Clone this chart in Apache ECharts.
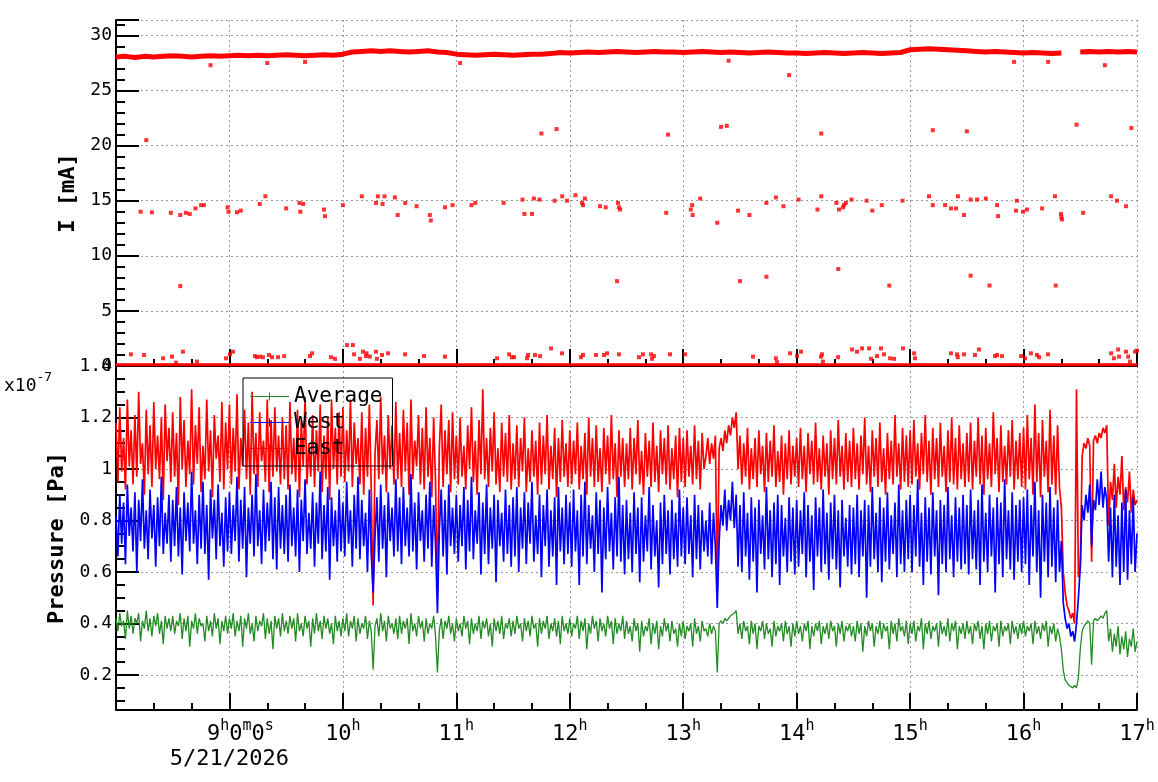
<!DOCTYPE html>
<html>
<head>
<meta charset="utf-8">
<script src="https://cdn.jsdelivr.net/npm/echarts@6.0.0/dist/echarts.min.js"></script>
<style>
html,body{margin:0;padding:0;background:#fff;}
#chart{width:1158px;height:782px;}
</style>
</head>
<body>
<div id="chart"></div>
<script>
// time axis = minutes after 8:00 on 5/21/2026

// beam current I [mA], main band, one value every 5 min (null = no data)
const iBandStep = 5;
const iBand = [
  28.05,28.1,28.0,28.1,28.05,28.1,28.15,28.1,28.05,28.1,28.15,28.1,
  28.15,28.2,28.15,28.2,28.15,28.2,28.25,28.2,28.15,28.2,28.25,28.2,
  28.3,28.5,28.55,28.6,28.55,28.6,28.55,28.5,28.55,28.6,28.5,28.45,
  28.3,28.25,28.2,28.25,28.3,28.25,28.2,28.25,28.3,28.3,28.35,
  28.45,28.4,28.45,28.5,28.45,28.5,28.55,28.5,28.45,28.5,28.55,28.5,28.5,28.45,
  28.5,28.55,28.5,28.45,28.5,28.45,28.4,28.45,28.5,28.45,28.4,
  28.4,28.35,28.4,28.45,28.4,28.35,28.4,28.45,28.4,28.35,28.4,28.45,
  28.7,28.75,28.8,28.75,28.7,28.65,28.6,28.55,28.5,28.55,28.5,28.45,
  28.4,28.45,28.4,28.35,28.4,
  null,
  28.5,28.55,28.5,28.55,28.5,28.55,28.5
];
// readings stuck near zero, one value every 10 min
const iZeroStep = 10;
const iZero = [
  0.12,0.12,0.12,0.12,0.12,0.12,0.12,0.12,0.12,0.12,0.12,0.12,0.12,0.12,
  0.12,0.12,0.12,0.12,0.12,0.12,0.12,0.12,0.12,0.12,0.12,0.12,0.12,0.12,
  0.12,0.12,0.12,0.12,0.12,0.12,0.12,0.12,0.12,0.12,0.12,0.12,0.12,0.12,
  0.12,0.12,0.12,0.12,0.12,0.12,0.12,0.12,0.12,0.12,0.12,0.12,0.12
];
// isolated readings [minute, mA]
const iOutliers = [
  [50,27.3],[80,27.5],[100,27.6],[182,27.5],[324,27.7],[356,26.4],[475,27.6],[493,27.6],[523,27.3],
  [16,20.5],[225,21.1],[233,21.5],[292,21.0],[320,21.7],[323,21.8],[373,21.1],[432,21.4],[450,21.3],[508,21.9],[537,21.6],
  [34,7.25],[265,7.7],[330,7.7],[344,8.1],[382,8.8],[409,7.3],[452,8.2],[462,7.3],[497,7.3],
  [13,14.0],[19,13.95],[29,13.9],[34,13.7],[37,13.9],[39,13.8],[42,14.3],[45,14.6],[46.5,14.6],[59,14.4],[59.5,14.0],
  [64,13.95],[66,14.1],[76,14.7],[79,15.4],[90,14.3],[97,14.8],[97.5,14.0],[99,14.7],[110,14.2],[110.5,13.6],
  [120,14.6],[130,15.4],[137.5,14.8],[138.5,15.4],[141,14.7],[142,15.4],[147.5,15.3],[149,13.7],[153,14.8],[159,14.5],
  [166,13.7],[166.5,13.2],[174,14.4],[178,14.6],[188,14.6],[190,14.8],[205,14.8],[215,15.1],[216,13.8],[220,13.8],
  [221,15.2],[224,15.1],[232,15.0],[236,15.4],[238.5,15.0],[243,15.5],[246.5,14.8],[248,15.2],[247,14.6],[256,14.5],
  [259,14.4],[265.5,14.8],[266,14.4],[266.6,14.2],[291,13.9],[304.7,14.6],[304,14.2],[305,13.7],[309,15.2],[318,13.0],
  [329,14.1],[335,13.7],[344,14.8],[349,15.3],[353,14.5],[361,15.1],[371,14.2],[373,15.4],[381,14.8],[382.4,14.2],
  [385,14.6],[384.5,14.4],[386,14.8],[389,15.1],[397,15.0],[400,14.1],[405,14.6],[416,15.0],[430,15.4],[432,14.6],
  [438.5,14.6],[441.6,14.3],[444.3,14.3],[445.3,15.4],[448.5,13.7],[452,15.1],[455.4,15.1],[460,15.2],[466,14.6],[466.5,13.6],
  [476.5,15.0],[476,14.1],[479.7,14.0],[481.8,14.2],[489.8,14.3],[496.6,15.4],[499.8,13.8],[500.3,13.3],[500,13.5],[511.5,13.9],
  [526.3,15.4],[529.4,15.0],[534.2,14.5],
  [7.9,1.06],[14.8,1.0],[24.9,0.7],[29.6,0.85],[31.7,0.3],[35.4,1.3],[42.8,0.4],[58.2,0.7],[60.3,1.06],[61.9,1.3],
  [73.5,0.9],[74.6,0.8],[76.2,0.85],[77.7,0.8],[80.9,1.0],[82.5,0.8],[85.7,0.8],[88.9,0.9],[102.6,0.9],[103.7,1.15],
  [113.7,0.8],[115.8,0.65],[122.2,1.9],[125.3,1.9],[125.9,1.06],[129,0.65],[130.6,1.3],[132.2,0.9],[132.5,1.15],[134.3,0.85],
  [137.5,1.3],[138,0.65],[140.7,1.0],[143.9,1.15],[152.9,1.06],[162.9,0.9],[174,0.85],[201.5,0.7],[207.9,1.06],[209.4,0.8],
  [210.5,0.8],[217.4,0.7],[217.9,1.0],[221.6,1.0],[224.3,0.9],[230.1,1.6],[235.9,1.15],[245.9,0.8],[247,1.0],[253.9,1.0],
  [258.1,1.0],[259.7,1.15],[266,1.06],[276.6,0.8],[278.7,1.06],[283,1.06],[283.5,0.65],[284.5,0.9],[293,1.06],[301,1.06],
  [336.9,0.85],[349,0.7],[349.6,0.35],[356.5,1.15],[360.2,0.9],[362.3,1.3],[372.9,0.85],[373.4,1.06],[373.9,0.4],[381.9,0.8],
  [389.3,1.5],[391.9,1.3],[394.6,1.6],[398.3,1.6],[399.3,0.65],[402.5,0.9],[404.6,1.6],[406.2,1.06],[409.4,0.7],[411.5,0.65],
  [416.2,1.6],[422.1,1.15],[422.6,0.7],[441.6,1.15],[444.8,1.06],[445.2,0.8],[448.5,1.06],[454.3,1.0],[456.4,1.5],[464.9,0.9],
  [466,1.0],[468.6,0.9],[478.7,0.9],[480.8,0.7],[483.9,1.15],[487.1,1.0],[488.2,0.8],[492.9,1.06],[526.3,1.15],[527.8,0.7],
  [530,1.5],[530.5,0.85],[534.2,1.3],[535.3,0.85],[536.3,0.4],[539,1.3],[540,1.4]
];

// pressure in units of 1e-7 Pa, one reading per minute (rows of 30 min)
const pStep = 1;
const pressEast = [
  1.18,0.95,1.24,0.99,1.12,0.92,1.27,1.01,1.15,0.94,1.21,0.97,1.30,1.02,1.10,0.90,1.23,0.98,1.17,0.93,1.26,1.00,1.13,0.96,1.20,0.88,1.25,1.03,1.16,0.95,
  1.22,0.97,1.14,0.86,1.28,1.00,1.19,0.93,1.11,0.98,1.31,0.94,1.17,1.02,1.24,0.91,1.09,0.96,1.27,0.99,1.15,0.89,1.21,1.04,1.13,0.95,1.26,0.92,1.18,1.00,
  1.25,0.94,1.16,0.99,1.29,0.92,1.12,1.01,1.23,0.96,1.18,0.90,1.30,0.98,1.14,0.93,1.22,1.03,1.11,0.95,1.27,0.91,1.19,0.97,1.24,0.99,1.13,0.94,1.20,0.96,
  1.17,0.92,1.26,0.98,1.12,0.95,1.23,0.89,1.19,1.01,1.28,0.94,1.10,0.97,1.21,0.93,1.15,0.99,1.25,0.91,1.13,0.96,1.20,0.88,1.27,1.00,1.16,0.94,1.22,0.97,
  1.24,0.95,1.15,0.99,1.27,0.93,1.18,1.02,1.12,0.94,1.22,0.90,1.16,0.97,1.25,0.92,0.47,1.06,1.19,0.96,1.28,0.98,1.13,0.91,1.21,1.00,1.17,0.94,1.26,0.96,
  1.14,0.93,1.23,0.99,1.18,0.90,1.27,0.96,1.11,1.01,1.21,0.94,1.16,0.92,1.24,0.97,1.12,0.89,1.20,0.95,0.50,1.08,1.25,0.93,1.15,0.98,1.19,0.91,1.22,0.96,
  1.13,0.94,1.20,0.97,1.09,0.92,1.17,1.00,1.24,0.95,1.11,0.90,1.19,0.98,1.31,0.96,1.12,0.93,1.16,0.99,1.22,0.94,1.08,0.91,1.18,0.97,1.14,0.95,1.21,0.92,
  1.10,0.96,1.17,0.93,1.12,0.99,1.20,0.91,1.08,0.95,1.15,0.97,1.11,0.90,1.18,0.94,1.13,0.98,1.21,0.92,1.09,0.96,1.16,0.89,1.12,0.95,1.19,0.97,1.10,0.93,
  1.15,0.94,1.11,0.98,1.18,0.92,1.09,0.96,1.14,0.90,1.20,0.97,1.12,0.93,1.17,0.95,1.08,0.91,1.16,0.98,1.13,0.94,1.21,0.96,1.10,0.89,1.15,0.97,1.12,0.93,
  1.10,0.96,1.16,0.92,1.12,0.98,1.19,0.94,1.07,0.90,1.14,0.97,1.11,0.93,1.18,0.95,1.09,0.91,1.15,0.98,1.12,0.94,1.17,0.92,1.08,0.96,1.13,0.89,1.16,0.95,
  1.12,0.93,1.15,0.97,1.09,0.94,1.17,0.96,1.11,0.92,1.14,1.00,1.05,1.12,1.02,1.10,1.04,1.13,0.53,1.08,1.12,1.07,1.15,1.10,1.17,1.13,1.20,1.16,1.22,1.00,
  1.13,0.94,1.10,0.97,1.16,0.92,1.08,0.96,1.12,0.93,1.15,0.98,1.09,0.91,1.14,0.95,1.11,0.97,1.17,0.93,1.07,0.95,1.13,0.90,1.10,0.96,1.15,0.94,1.09,0.97,
  1.12,0.93,1.16,0.96,1.09,0.91,1.14,0.98,1.11,0.94,1.18,0.95,1.08,0.92,1.13,0.97,1.10,0.90,1.15,0.96,1.12,0.94,1.19,0.97,1.09,0.92,1.14,0.95,1.11,0.93,
  1.16,0.96,1.10,0.92,1.13,0.98,1.20,0.94,1.09,0.91,1.15,0.97,1.12,0.93,1.18,0.95,1.08,0.90,1.14,0.96,1.11,0.94,1.21,0.97,1.10,0.92,1.16,0.95,1.13,0.93,
  1.15,0.94,1.19,0.97,1.10,0.92,1.14,0.98,1.21,0.95,1.11,0.90,1.16,0.96,1.12,0.93,1.18,0.97,1.09,0.91,1.15,0.95,1.20,0.94,1.12,0.92,1.17,0.96,1.10,0.93,
  1.14,0.95,1.18,0.92,1.11,0.97,1.20,0.94,1.13,0.90,1.16,0.96,1.10,0.93,1.22,0.98,1.12,0.91,1.17,0.95,1.09,0.94,1.15,0.97,1.19,0.92,1.11,0.96,1.14,0.93,
  1.16,0.92,1.21,0.96,1.12,0.90,1.25,0.95,1.14,0.89,1.19,0.97,1.11,0.91,1.23,0.94,1.13,0.90,1.17,0.93,0.85,0.60,0.52,0.47,0.45,0.42,0.44,0.40,1.31,0.58,
  0.62,1.05,1.10,1.08,1.12,1.09,0.64,1.11,1.13,1.10,1.14,1.12,1.16,1.14,1.17,0.78,0.95,0.88,1.02,0.85,0.97,0.90,1.05,0.84,0.93,0.87,0.99,0.83,0.92,0.86,
  0.88
];
const pressWest = [
  0.82,0.66,0.90,0.71,0.87,0.63,0.94,0.74,0.85,0.68,0.91,0.60,0.88,0.72,0.96,0.69,0.84,0.65,0.92,0.73,0.86,0.62,0.89,0.70,0.97,0.67,0.83,0.71,0.90,0.64,
  0.88,0.70,0.93,0.66,0.85,0.59,0.91,0.72,0.87,0.68,0.99,0.71,0.84,0.63,0.90,0.69,0.95,0.67,0.86,0.57,0.92,0.73,0.88,0.65,0.94,0.70,0.83,0.62,0.89,0.68,
  0.91,0.67,0.86,0.72,0.97,0.64,0.88,0.69,0.93,0.58,0.85,0.71,0.90,0.66,0.98,0.70,0.84,0.63,0.92,0.68,0.87,0.72,0.95,0.65,0.89,0.61,0.93,0.69,0.86,0.67,
  0.90,0.64,0.94,0.70,0.85,0.66,0.92,0.60,0.88,0.72,0.96,0.67,0.83,0.69,0.91,0.62,0.87,0.71,0.99,0.65,0.86,0.68,0.93,0.57,0.89,0.70,0.84,0.64,0.92,0.68,
  0.87,0.66,0.95,0.71,0.84,0.62,0.90,0.69,0.97,0.65,0.88,0.70,0.83,0.60,0.92,0.67,0.52,0.74,0.89,0.64,0.94,0.69,0.86,0.58,0.91,0.72,0.85,0.66,0.96,0.68,
  0.89,0.63,0.93,0.70,0.85,0.66,0.98,0.68,0.87,0.61,0.91,0.72,0.84,0.64,0.90,0.69,0.95,0.62,0.86,0.71,0.44,0.76,0.92,0.66,0.88,0.59,0.94,0.70,0.85,0.67,
  0.90,0.64,0.86,0.70,0.93,0.61,0.88,0.68,0.97,0.65,0.84,0.71,0.91,0.59,0.87,0.67,0.94,0.63,0.85,0.69,0.90,0.56,0.88,0.70,0.83,0.64,0.92,0.67,0.86,0.62,
  0.89,0.66,0.93,0.60,0.85,0.69,0.91,0.63,0.87,0.71,0.95,0.64,0.82,0.67,0.90,0.58,0.86,0.70,0.92,0.62,0.84,0.66,0.89,0.55,0.93,0.68,0.85,0.63,0.90,0.67,
  0.87,0.62,0.92,0.68,0.84,0.55,0.90,0.66,0.95,0.63,0.86,0.69,0.82,0.60,0.91,0.67,0.88,0.52,0.85,0.65,0.93,0.68,0.83,0.61,0.89,0.66,0.97,0.64,0.86,0.59,
  0.88,0.65,0.83,0.60,0.91,0.67,0.85,0.56,0.89,0.64,0.82,0.68,0.93,0.61,0.86,0.66,0.80,0.54,0.87,0.63,0.90,0.67,0.84,0.59,0.88,0.65,0.83,0.62,0.92,0.66,
  0.85,0.63,0.89,0.67,0.82,0.58,0.90,0.65,0.86,0.61,0.84,0.68,0.80,0.66,0.87,0.63,0.83,0.70,0.46,0.72,0.86,0.78,0.92,0.76,0.88,0.80,0.95,0.77,0.90,0.62,
  0.86,0.60,0.91,0.66,0.83,0.57,0.89,0.64,0.85,0.52,0.88,0.67,0.82,0.61,0.93,0.65,0.84,0.58,0.87,0.63,0.90,0.55,0.86,0.66,0.81,0.60,0.89,0.64,0.85,0.59,
  0.88,0.62,0.84,0.67,0.91,0.58,0.86,0.64,0.82,0.53,0.89,0.66,0.85,0.60,0.92,0.63,0.83,0.57,0.87,0.65,0.90,0.61,0.84,0.54,0.88,0.66,0.81,0.62,0.86,0.59,
  0.85,0.63,0.90,0.58,0.84,0.66,0.88,0.50,0.86,0.62,0.93,0.65,0.83,0.60,0.89,0.56,0.85,0.64,0.91,0.61,0.82,0.67,0.87,0.58,0.94,0.63,0.84,0.60,0.88,0.65,
  0.90,0.60,0.86,0.66,0.96,0.62,0.83,0.55,0.89,0.64,0.85,0.59,0.91,0.66,0.84,0.51,0.88,0.63,0.86,0.60,0.93,0.65,0.82,0.58,0.89,0.64,0.85,0.61,0.90,0.63,
  0.86,0.59,0.92,0.65,0.84,0.61,0.88,0.55,0.94,0.64,0.83,0.60,0.90,0.66,0.85,0.52,0.89,0.63,0.87,0.58,0.96,0.65,0.84,0.61,0.91,0.57,0.86,0.64,0.88,0.60,
  0.89,0.63,0.92,0.55,0.86,0.66,0.95,0.60,0.84,0.50,0.90,0.64,0.87,0.58,0.93,0.62,0.85,0.56,0.88,0.60,0.72,0.48,0.42,0.38,0.40,0.35,0.37,0.33,0.40,0.50,
  0.62,0.86,0.80,0.90,0.83,0.94,0.70,0.88,0.84,0.96,0.86,0.99,0.85,0.93,0.88,0.64,0.85,0.58,0.90,0.62,0.82,0.55,0.87,0.60,0.92,0.57,0.84,0.63,0.89,0.60,
  0.75
];
const pressAvg = [
  0.42,0.37,0.44,0.39,0.41,0.34,0.45,0.38,0.43,0.36,0.42,0.40,0.44,0.33,0.41,0.38,0.45,0.37,0.42,0.35,0.43,0.39,0.44,0.36,0.41,0.32,0.43,0.38,0.42,0.37,
  0.43,0.36,0.41,0.39,0.44,0.34,0.42,0.37,0.43,0.31,0.41,0.38,0.44,0.36,0.42,0.39,0.40,0.33,0.43,0.37,0.41,0.35,0.44,0.38,0.42,0.32,0.41,0.37,0.43,0.36,
  0.42,0.38,0.44,0.35,0.41,0.37,0.43,0.31,0.42,0.38,0.44,0.36,0.40,0.33,0.43,0.37,0.41,0.39,0.44,0.34,0.42,0.36,0.41,0.30,0.43,0.38,0.42,0.35,0.44,0.37,
  0.41,0.36,0.43,0.38,0.42,0.33,0.44,0.37,0.40,0.35,0.43,0.38,0.41,0.31,0.42,0.36,0.44,0.37,0.41,0.34,0.43,0.38,0.42,0.36,0.40,0.32,0.43,0.37,0.41,0.35,
  0.42,0.37,0.44,0.35,0.41,0.38,0.43,0.33,0.42,0.36,0.40,0.38,0.43,0.34,0.41,0.37,0.22,0.39,0.42,0.35,0.44,0.37,0.41,0.33,0.43,0.38,0.40,0.36,0.42,0.34,
  0.43,0.36,0.41,0.38,0.42,0.32,0.44,0.37,0.40,0.35,0.43,0.38,0.41,0.33,0.42,0.36,0.40,0.38,0.43,0.35,0.21,0.37,0.42,0.34,0.41,0.38,0.43,0.36,0.40,0.33,
  0.42,0.37,0.40,0.35,0.43,0.38,0.41,0.32,0.42,0.36,0.40,0.37,0.43,0.34,0.41,0.38,0.42,0.35,0.40,0.31,0.42,0.37,0.41,0.36,0.43,0.34,0.40,0.38,0.42,0.35,
  0.41,0.36,0.43,0.38,0.40,0.33,0.42,0.37,0.41,0.35,0.43,0.38,0.40,0.31,0.42,0.36,0.41,0.38,0.43,0.34,0.40,0.37,0.42,0.35,0.41,0.32,0.43,0.37,0.40,0.36,
  0.42,0.35,0.40,0.38,0.43,0.34,0.41,0.37,0.42,0.30,0.40,0.36,0.43,0.38,0.41,0.33,0.42,0.37,0.40,0.35,0.43,0.38,0.41,0.32,0.42,0.36,0.40,0.37,0.43,0.34,
  0.41,0.36,0.39,0.33,0.42,0.37,0.40,0.29,0.41,0.35,0.39,0.37,0.42,0.32,0.40,0.36,0.41,0.30,0.39,0.35,0.42,0.37,0.40,0.33,0.41,0.36,0.38,0.31,0.40,0.35,
  0.41,0.34,0.39,0.37,0.40,0.31,0.42,0.36,0.39,0.33,0.41,0.37,0.38,0.35,0.40,0.36,0.39,0.37,0.21,0.40,0.41,0.40,0.42,0.41,0.42,0.43,0.43,0.44,0.45,0.36,
  0.40,0.34,0.41,0.37,0.39,0.32,0.41,0.36,0.40,0.30,0.39,0.37,0.41,0.34,0.40,0.36,0.38,0.31,0.41,0.35,0.39,0.37,0.40,0.33,0.41,0.36,0.39,0.31,0.40,0.35,
  0.41,0.36,0.39,0.33,0.40,0.37,0.41,0.30,0.39,0.35,0.40,0.37,0.41,0.32,0.39,0.36,0.40,0.34,0.41,0.37,0.39,0.31,0.40,0.36,0.41,0.33,0.39,0.37,0.40,0.35,
  0.39,0.33,0.41,0.36,0.40,0.29,0.39,0.35,0.41,0.37,0.40,0.31,0.39,0.36,0.41,0.34,0.40,0.37,0.39,0.30,0.41,0.36,0.40,0.33,0.42,0.37,0.39,0.35,0.41,0.32,
  0.40,0.36,0.41,0.33,0.39,0.37,0.42,0.30,0.40,0.36,0.41,0.34,0.39,0.37,0.40,0.31,0.41,0.36,0.39,0.35,0.42,0.33,0.40,0.37,0.41,0.30,0.39,0.36,0.40,0.34,
  0.41,0.36,0.39,0.32,0.40,0.37,0.41,0.34,0.39,0.30,0.40,0.36,0.41,0.33,0.39,0.37,0.40,0.31,0.41,0.35,0.39,0.37,0.40,0.32,0.41,0.36,0.39,0.34,0.40,0.36,
  0.41,0.35,0.39,0.37,0.40,0.32,0.41,0.36,0.39,0.34,0.40,0.37,0.41,0.31,0.39,0.36,0.40,0.33,0.38,0.35,0.30,0.22,0.18,0.17,0.16,0.16,0.15,0.16,0.15,0.19,
  0.30,0.37,0.39,0.40,0.41,0.40,0.24,0.41,0.42,0.41,0.42,0.43,0.42,0.44,0.45,0.33,0.38,0.29,0.36,0.31,0.39,0.28,0.35,0.30,0.37,0.27,0.34,0.31,0.38,0.29,
  0.33
];

const mono = 'DejaVu Sans Mono';
const withTime = (vals, step) => vals.map((v, i) => [i * step, v]);

const gridLine = {show: true, lineStyle: {color: '#9a9a9a', type: [2, 3], width: 1}};
const blackLine = {color: '#000', width: 2};

const xCommon = {
  type: 'value', min: 0, max: 540, interval: 60,
  axisLine: {show: true, onZero: false, lineStyle: blackLine},
  axisTick: {show: true, inside: true, length: 17, lineStyle: blackLine},
  minorTick: {show: true, splitNumber: 3, length: 7, lineStyle: blackLine},
  splitLine: gridLine
};

const hourLabel = v => {
  if (v === 60) return '{p| }{a|9}{s|h}{a|0}{s|m}{a|0}{s|s}\n{d|5/21/2026}';
  if (v > 0) return '{a|' + (8 + v / 60) + '}{s|h}';
  return '';
};

const legendIcon = 'path://M0,6.5L40,6.5L40,7.5L0,7.5Z M19.5,3L20.5,3L20.5,11L19.5,11Z';

const option = {
  animation: false,
  backgroundColor: '#fff',
  grid: [
    {left: 116, right: 21, top: 20, height: 346},
    {left: 116, right: 21, top: 366, bottom: 72}
  ],
  xAxis: [
    Object.assign({}, xCommon, {gridIndex: 0, axisLabel: {show: false}}),
    Object.assign({}, xCommon, {
      gridIndex: 1,
      axisLabel: {
        margin: 9, color: '#000', formatter: hourLabel,
        rich: {
          a: {fontFamily: mono, fontSize: 22, lineHeight: 26, verticalAlign: 'bottom', color: '#000'},
          s: {fontFamily: mono, fontSize: 15, lineHeight: 12, verticalAlign: 'top', color: '#000'},
          p: {fontFamily: mono, fontSize: 15, width: 22},
          d: {fontFamily: mono, fontSize: 22, lineHeight: 28, color: '#000'}
        }
      }
    }),
    {gridIndex: 0, type: 'value', min: 0, max: 540, position: 'top',
     axisLine: {show: true, lineStyle: {color: '#000', width: 1}},
     axisTick: {show: false}, axisLabel: {show: false}, splitLine: {show: false}}
  ],
  yAxis: [
    {
      gridIndex: 0, type: 'value', min: 0, max: 31.4, interval: 5,
      name: 'I [mA]', nameLocation: 'middle', nameGap: 29,
      nameTextStyle: {fontFamily: mono, fontWeight: 'bold', fontSize: 22, color: '#000'},
      axisLine: {show: true, lineStyle: blackLine},
      axisTick: {show: true, inside: true, length: 23, lineStyle: blackLine},
      minorTick: {show: true, splitNumber: 5, length: 9, lineStyle: blackLine},
      axisLabel: {fontFamily: mono, fontSize: 18, color: '#000', margin: 4, showMaxLabel: false},
      splitLine: gridLine
    },
    {
      gridIndex: 1, type: 'value', min: 0.064, max: 1.4, splitNumber: 7,
      name: 'Pressure [Pa]', nameLocation: 'middle', nameGap: 40,
      nameTextStyle: {fontFamily: mono, fontWeight: 'bold', fontSize: 22, color: '#000'},
      axisLine: {show: true, lineStyle: blackLine},
      axisTick: {show: true, inside: true, length: 23, lineStyle: blackLine},
      minorTick: {show: true, splitNumber: 4, length: 9, lineStyle: blackLine},
      axisLabel: {fontFamily: mono, fontSize: 18, color: '#000', margin: 4, showMinLabel: false},
      splitLine: gridLine
    }
  ],
  legend: {
    data: [
      {name: 'Average', icon: legendIcon},
      {name: 'West', icon: legendIcon},
      {name: 'East', icon: legendIcon}
    ],
    orient: 'vertical', left: 243, top: 378,
    padding: [8, 10, 7, 7], itemGap: 5, itemWidth: 39, itemHeight: 14,
    borderColor: '#000', borderWidth: 1, borderRadius: 0,
    backgroundColor: 'transparent', selectedMode: false,
    itemStyle: {borderWidth: 0},
    textStyle: {fontFamily: mono, fontSize: 21, color: '#000', lineHeight: 21}
  },
  graphic: [{
    type: 'text', left: 4, top: 371,
    style: {
      text: '{a|x10}{b|-7}', fill: '#000',
      rich: {
        a: {fontFamily: mono, fontSize: 18, lineHeight: 24, verticalAlign: 'bottom', fill: '#000'},
        b: {fontFamily: mono, fontSize: 13, lineHeight: 12, verticalAlign: 'top', fill: '#000'}
      }
    }
  }],
  series: [
    {name: 'I', type: 'line', xAxisIndex: 0, yAxisIndex: 0, color: '#ff0000',
     data: withTime(iBand, iBandStep), symbol: 'none', connectNulls: false,
     lineStyle: {width: 5, color: '#ff0000'}},
    {name: 'I0', type: 'line', xAxisIndex: 0, yAxisIndex: 0, color: '#ff0000',
     data: withTime(iZero, iZeroStep), symbol: 'none',
     lineStyle: {width: 3, color: '#ff0000'}},
    {name: 'Iout', type: 'scatter', xAxisIndex: 0, yAxisIndex: 0,
     data: iOutliers, symbol: 'rect', symbolSize: 4, itemStyle: {color: '#ff0000'}},
    {name: 'East', type: 'line', xAxisIndex: 1, yAxisIndex: 1, color: '#ff0000',
     data: withTime(pressEast, pStep), symbol: 'none', lineStyle: {width: 1.7, color: '#ff0000'}},
    {name: 'West', type: 'line', xAxisIndex: 1, yAxisIndex: 1, color: '#0000ff',
     data: withTime(pressWest, pStep), symbol: 'none', lineStyle: {width: 1.7, color: '#0000ff'}},
    {name: 'Average', type: 'line', xAxisIndex: 1, yAxisIndex: 1, color: '#228b22',
     data: withTime(pressAvg, pStep), symbol: 'none', lineStyle: {width: 1.3, color: '#228b22'}}
  ]
};

const chart = echarts.init(document.getElementById('chart'));
chart.setOption(option);
</script>
</body>
</html>
